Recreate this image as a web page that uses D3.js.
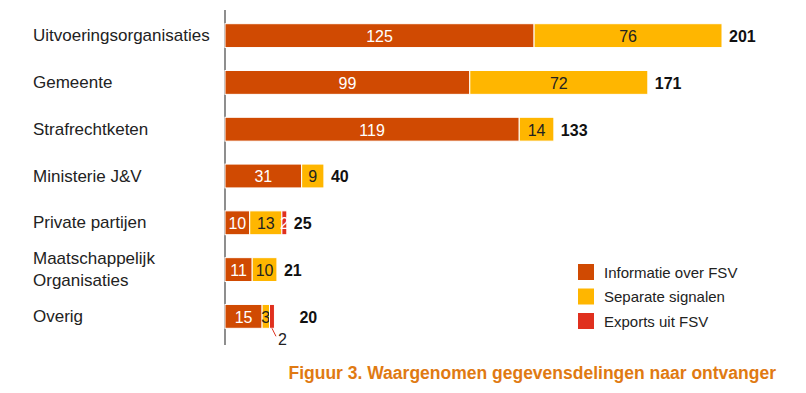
<!DOCTYPE html>
<html>
<head>
<meta charset="utf-8">
<script src="https://cdn.jsdelivr.net/npm/d3@7"></script>
<style>
  body { margin: 0; background: #fff; }
  svg { font-family: "Liberation Sans", Arial, sans-serif; }
</style>
</head>
<body>
<svg width="806" height="393"></svg>
<script>
const categories = ['Uitvoeringsorganisaties', 'Gemeente', 'Strafrechtketen', 'Ministerie J&V', 'Private partijen', 'Maatschappelijk Organisaties', 'Overig']
const informatie = [125, 99, 119, 31, 10, 11, 15]
const separate = [76, 72, 14, 9, 13, 10, 3]
const exportsFsv = [0, 0, 0, 0, 2, 0, 2]
const seriesNames = ['Informatie over FSV', 'Separate signalen', 'Exports uit FSV']
const colors = ['#D04A02', '#FFB600', '#E0301E']
const labelColors = ['#fff', '#222', '#fff']

const rows = categories.map((c, i) => ({ cat: c, vals: [informatie[i], separate[i], exportsFsv[i]] }))

const svg = d3.select('svg')
const x0 = 225
const x = d3.scaleLinear().domain([0, 201]).range([x0, 722])
const y = d3.scaleBand().domain(categories).range([12, 340]).paddingInner(0.49).paddingOuter(0.25)

// axis line
svg.append('line')
    .attr('x1', x0).attr('x2', x0)
    .attr('y1', 10).attr('y2', 345)
    .attr('stroke', '#444').attr('stroke-width', 1.2)

const row = svg.selectAll('.row')
    .data(rows)
    .join('g')
    .attr('class', 'row')
    .attr('transform', d => `translate(0,${y(d.cat)})`)

row.each(function (d) {
    const g = d3.select(this)
    let acc = 0
    d.vals.forEach((v, k) => {
        if (!v) return
        g.append('rect')
            .attr('x', x(acc))
            .attr('y', 0)
            .attr('width', x(acc + v) - x(acc))
            .attr('height', y.bandwidth())
            .attr('fill', colors[k])
            .attr('stroke', '#fff')
            .attr('stroke-width', 1)
        const cx = (x(acc) + x(acc + v)) / 2
        if (d.cat === 'Overig' && k === 2) {
            // small segment label placed below with a leader
            g.append('line')
                .attr('x1', cx).attr('x2', cx + 4)
                .attr('y1', y.bandwidth()).attr('y2', y.bandwidth() + 8)
                .attr('stroke', '#E0301E')
            g.append('text')
                .attr('x', cx + 6)
                .attr('y', y.bandwidth() + 11)
                .attr('dominant-baseline', 'central')
                .attr('font-size', 16)
                .attr('fill', '#222')
                .text(v)
        } else {
            g.append('text')
                .attr('x', cx)
                .attr('y', y.bandwidth() / 2 + 1)
                .attr('text-anchor', 'middle')
                .attr('dominant-baseline', 'central')
                .attr('font-size', 16)
                .attr('fill', labelColors[k])
                .text(v)
        }
        acc += v
    })
    const total = d3.sum(d.vals)
    g.append('text')
        .attr('x', x(total) + (d.cat === 'Overig' ? 25 : 7))
        .attr('y', y.bandwidth() / 2 + 1)
        .attr('dominant-baseline', 'central')
        .attr('font-size', 16)
        .attr('font-weight', 'bold')
        .attr('fill', '#111')
        .text(total)
})

// category labels
svg.selectAll('.cat')
    .data(categories)
    .join('text')
    .attr('class', 'cat')
    .attr('x', 33)
    .attr('font-size', 17)
    .attr('fill', '#222')
    .each(function (c) {
        const t = d3.select(this)
        const mid = y(c) + y.bandwidth() / 2
        if (c === 'Maatschappelijk Organisaties') {
            t.append('tspan').attr('x', 33).attr('y', mid - 11).attr('dominant-baseline', 'central').text('Maatschappelijk')
            t.append('tspan').attr('x', 33).attr('y', mid + 11).attr('dominant-baseline', 'central').text('Organisaties')
        } else {
            t.attr('y', mid).attr('dominant-baseline', 'central').text(c)
        }
    })

// legend
const legend = svg.append('g').attr('transform', 'translate(578,264)')
seriesNames.forEach((s, i) => {
    legend.append('rect')
        .attr('x', 0).attr('y', i * 24.5)
        .attr('width', 16).attr('height', 16)
        .attr('fill', colors[i])
    legend.append('text')
        .attr('x', 26).attr('y', i * 24.5 + 8)
        .attr('dominant-baseline', 'central')
        .attr('font-size', 15)
        .attr('fill', '#222')
        .text(s)
})

// caption
svg.append('text')
    .attr('x', 776).attr('y', 373)
    .attr('text-anchor', 'end')
    .attr('dominant-baseline', 'central')
    .attr('font-size', 17.5)
    .attr('font-weight', 'bold')
    .attr('fill', '#E07A12')
    .text('Figuur 3. Waargenomen gegevensdelingen naar ontvanger')
</script>
</body>
</html>
